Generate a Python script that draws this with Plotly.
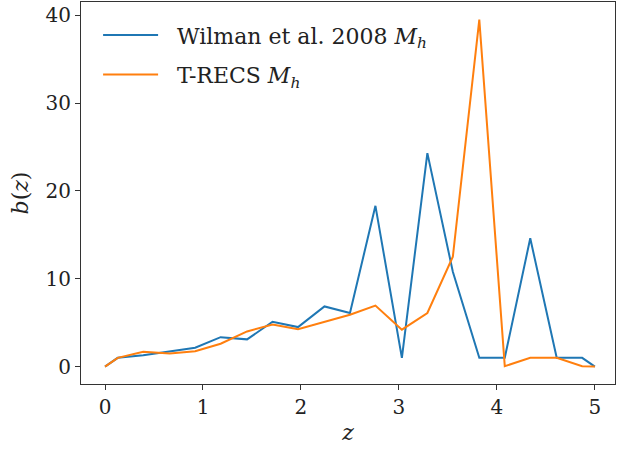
import plotly.graph_objects as go

z = [0, 0.13, 0.39, 0.66, 0.92, 1.18, 1.45, 1.71, 1.97, 2.24, 2.50,
     2.76, 3.03, 3.29, 3.55, 3.82, 4.08, 4.34, 4.61, 4.87, 5.0]
b_wilman = [0, 1.0, 1.3, 1.7, 2.15, 3.35, 3.1, 5.1, 4.5, 6.85, 6.1,
            18.3, 1.0, 24.3, 10.8, 1.0, 1.0, 14.6, 1.0, 1.0, 0.0]
b_trecs = [0, 1.0, 1.7, 1.5, 1.75, 2.6, 4.0, 4.8, 4.25, 5.05, 5.9,
           6.95, 4.2, 6.1, 12.5, 39.5, 0.05, 1.0, 1.0, 0.05, 0.0]
labels = ["&nbsp;&nbsp;Wilman et al. 2008 <i>M</i><sub><i>h</i></sub>",
          "&nbsp;&nbsp;T-RECS <i>M</i><sub><i>h</i></sub>"]
colors = ["#1f77b4", "#ff7f0e"]
x_ticks = [0, 1, 2, 3, 4, 5]
y_ticks = [0, 10, 20, 30, 40]

FONT = "DejaVu Serif"

fig = go.Figure()
for i, (y, name, c) in enumerate(zip([b_wilman, b_trecs], labels, colors)):
    fig.add_trace(go.Scatter(x=z, y=y, mode="lines", name=name, legendgroup=f"g{i}",
                             line=dict(color=c, width=2)))

axis_common = dict(showline=True, linecolor="#333", linewidth=1.2, mirror=True,
                   ticks="outside", ticklen=5, tickwidth=1.2, tickcolor="#333",
                   showgrid=False, zeroline=False,
                   tickfont=dict(family=FONT, size=20, color="#222"))
fig.update_xaxes(range=[-0.245, 5.205], tickvals=x_ticks,
                 title=dict(text="<i>z</i>", font=dict(family=FONT, size=22, color="#222"), standoff=6),
                 **axis_common)
fig.update_yaxes(range=[-1.98, 41.5], tickvals=y_ticks,
                 title=dict(text="<i>b</i>(<i>z</i>)", font=dict(family=FONT, size=22, color="#222"), standoff=10),
                 **axis_common)

fig.update_layout(
    width=619, height=454,
    margin=dict(l=81, r=4, t=2, b=70),
    plot_bgcolor="white", paper_bgcolor="white",
    font=dict(family=FONT, color="#222"),
    legend=dict(x=0.032, y=0.968, xanchor="left", yanchor="top",
                bgcolor="rgba(255,255,255,0)", font=dict(family=FONT, size=22, color="#222"),
                itemwidth=55, tracegroupgap=8),
    showlegend=True,
)

fig.write_html("out.html")
